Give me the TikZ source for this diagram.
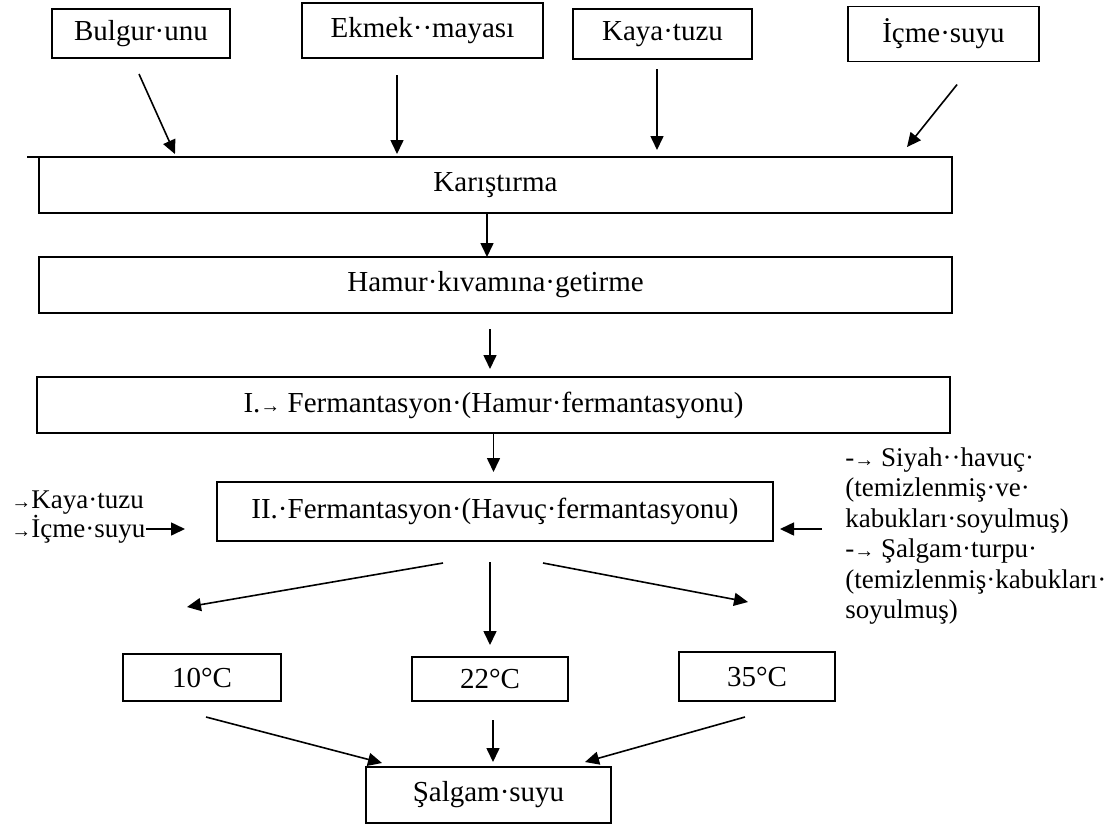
\documentclass[tikz,border=0pt]{standalone}
\usepackage{fontspec}
\setmainfont{Liberation Serif}
\usetikzlibrary{arrows.meta,positioning}
\newcommand{\tabmark}{{\fontsize{10}{10}\selectfont →}}

\begin{document}
\begin{tikzpicture}[
    x=0.5pt, y=-0.5pt,
    node distance=50pt,
    font=\fontsize{14.5}{15.25}\selectfont,
    box/.style={rectangle, draw, line width=0.9pt, inner sep=0pt, outer sep=0pt, text centered},
    input/.style={box, minimum width=89.5pt, minimum height=25pt},
    process/.style={box, minimum width=456.5pt, minimum height=28pt},
    temp/.style={box, minimum width=78pt, minimum height=23.5pt},
    note/.style={inner sep=0pt, align=left, font=\fontsize{13.5}{15.25}\selectfont},
    flow/.style={-{Triangle[length=7pt,width=6.5pt]}, line width=0.8pt}
]
    \useasboundingbox (0,0) rectangle (1113,825);

    % Main steps
    \node[process] (karis) at (495.5,185) {Karıştırma};
    \node[process, below of=karis] (hamur) {Hamur·kıvamına·getirme};
    \node[process, below of=hamur, xshift=-1pt, yshift=-10pt] (ferm1) {I.\tabmark\ Fermantasyon·(Hamur·fermantasyonu)};
    \node[box, minimum width=278pt, minimum height=29.5pt, below of=ferm1, xshift=0.75pt, yshift=-3.25pt] (ferm2) {II.·Fermantasyon·(Havuç·fermantasyonu)};

    % Ingredients
    \node[input, minimum width=120.5pt, minimum height=27.5pt, above of=karis, xshift=-36.5pt, yshift=27.25pt] (ekmek) {Ekmek··mayası};
    \node[input, minimum width=89pt, minimum height=24.5pt, left of=ekmek, xshift=-90.75pt, yshift=-1.5pt] (bulgur) {Bulgur·unu};
    \node[input, right of=ekmek, xshift=70pt, yshift=-1.75pt] (kaya) {Kaya·tuzu};
    \node[input, minimum width=95.5pt, minimum height=27.5pt, right of=kaya, xshift=90.5pt] (icme) {İçme·suyu};

    % Temperatures
    \node[temp, minimum height=22pt, below of=ferm2, xshift=-2.5pt, yshift=-33.75pt] (c22) {22°C};
    \node[temp, minimum width=79pt, left of=c22, xshift=-94pt, yshift=0.75pt] (c10) {10°C};
    \node[temp, minimum height=24.5pt, right of=c22, xshift=83.5pt, yshift=1.25pt] (c35) {35°C};

    % Product
    \node[box, minimum width=122.5pt, minimum height=28pt, below of=c22, xshift=-0.75pt, yshift=-8pt] (salgam) {Şalgam·suyu};

    % Side additions
    \node[note, anchor=west] (kayanote) at (11,503) {\tabmark Kaya·tuzu};
    \node[note, anchor=west] (icmenote) at (11,529) {\tabmark İçme·suyu};
    \node[note, anchor=north west] (rightnote) at (845,447) {-\tabmark\ Siyah··havuç·\\(temizlenmiş·ve·\\kabukları·soyulmuş)\\-\tabmark\ Şalgam·turpu·\\(temizlenmiş·kabukları·\\soyulmuş)};
    \coordinate (rin) at ([yshift=-8.75pt]ferm2.east);

    % Connections
    \draw[line width=0.9pt] (karis.north west) -- ++(-12,0);
    \draw[flow, shorten <=8.8pt, shorten >=1.6pt] ([xshift=-4.6pt]bulgur.south) -- ([xshift=-159.6pt]karis.north);
    \draw[flow, shorten <=8.5pt, shorten >=1.5pt] ([xshift=-12.75pt]ekmek.south) -- ([xshift=-49.25pt]karis.north);
    \draw[flow, shorten <=5pt, shorten >=3.5pt] ([xshift=-2.75pt]kaya.south) -- ([xshift=80.75pt]karis.north);
    \draw[flow, shorten <=14.75pt, shorten >=6.4pt] ([xshift=16pt]icme.south) -- ([xshift=201.75pt]karis.north);
    \draw[flow] ([xshift=-4.25pt]karis.south) -- ([xshift=-4.25pt]hamur.north);
    \draw[flow, shorten <=8pt, shorten >=4pt] ([xshift=-2.75pt]hamur.south) -- ([xshift=-1.75pt]ferm1.north);
    \draw[flow, shorten >=5pt] (ferm1.south) -- ([xshift=-0.75pt]ferm2.north);
    \draw[flow, shorten >=16pt] (icmenote.east) -- (icmenote.east -| ferm2.west);
    \draw[flow, shorten <=11.5pt, shorten >=3.5pt] (rin -| rightnote.west) -- (rin);
    \draw[flow] ([xshift=-26pt,yshift=-11pt]ferm2.south) -- ([xshift=-7.5pt,yshift=23.5pt]c10.north);
    \draw[flow] ([xshift=-2.5pt,yshift=-10.5pt]ferm2.south) -- ([yshift=6pt]c22.north);
    \draw[flow] ([xshift=24pt,yshift=-11pt]ferm2.south) -- ([xshift=-4.5pt,yshift=25pt]c35.north);
    \draw[flow] ([xshift=2pt,yshift=-8pt]c10.south) -- ([xshift=-53.25pt,yshift=2pt]salgam.north);
    \draw[flow, shorten <=9.5pt, shorten >=2.5pt] ([xshift=1.5pt]c22.south) -- ([xshift=2.25pt]salgam.north);
    \draw[flow] ([xshift=-6pt,yshift=-8pt]c35.south) -- ([xshift=48.25pt,yshift=2.5pt]salgam.north);
\end{tikzpicture}
\end{document}
